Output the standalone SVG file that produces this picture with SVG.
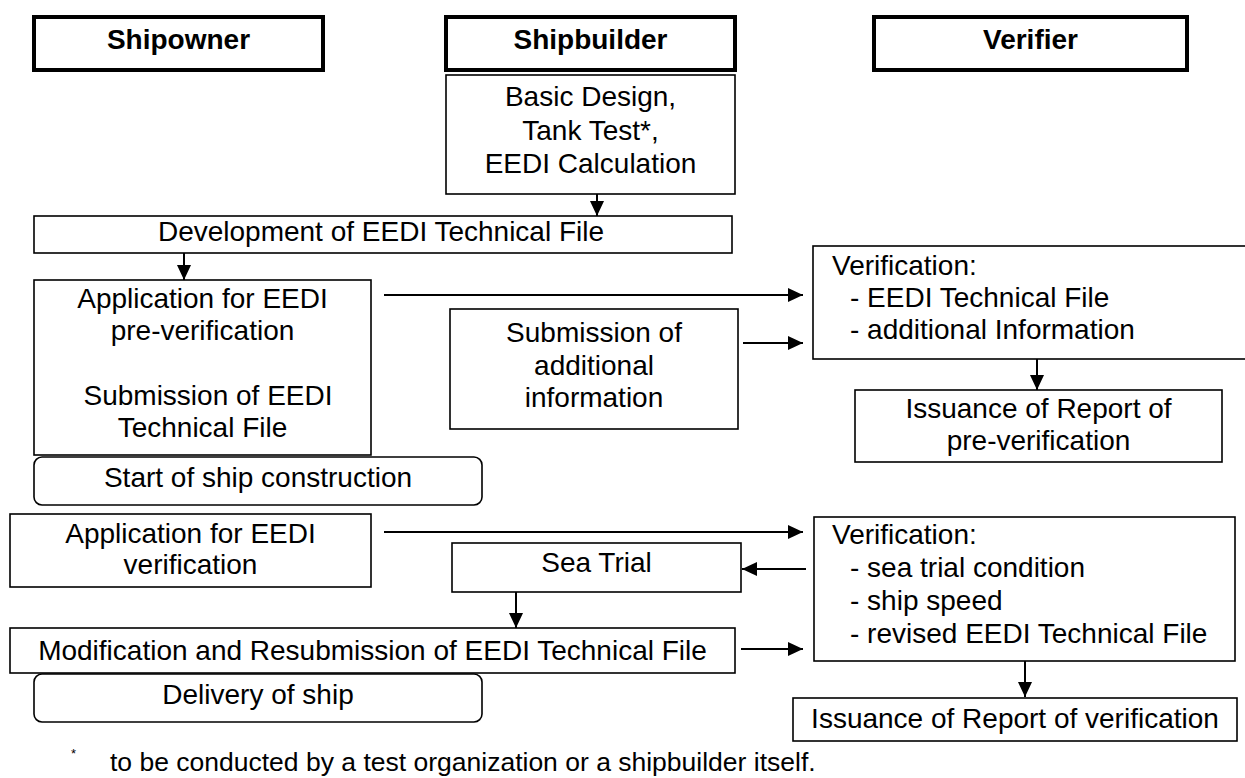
<svg xmlns="http://www.w3.org/2000/svg" width="1245" height="778" viewBox="0 0 1245 778">
<style>
.hdr{fill:#fff;stroke:#000;stroke-width:4}
.box{fill:#fff;stroke:#000;stroke-width:1.6}
.t{font-family:"Liberation Sans",Arial,sans-serif;font-size:28px;fill:#000}
.c{text-anchor:middle}
.b{font-weight:bold}
.con{stroke:#000;stroke-width:2;fill:none}
</style>
<defs>
<marker id="ah" viewBox="0 0 15 14" refX="15" refY="7" markerWidth="15" markerHeight="14" markerUnits="userSpaceOnUse" orient="auto">
<path d="M0,0 L15,7 L0,14 Z" fill="#000"/>
</marker>
</defs>
<rect width="1245" height="778" fill="#fff"/>

<g id="hdr-shipowner"><rect class="hdr" x="34" y="17" width="289" height="53"/><text class="t c b" x="178.5" y="49">Shipowner</text></g>
<g id="hdr-shipbuilder"><rect class="hdr" x="446" y="17" width="289" height="53"/><text class="t c b" x="590.5" y="49">Shipbuilder</text></g>
<g id="hdr-verifier"><rect class="hdr" x="874" y="17" width="313" height="53"/><text class="t c b" x="1030.5" y="49">Verifier</text></g>

<g id="basic-design"><rect class="box" x="446" y="75" width="289" height="119"/>
<text class="t c" x="590.5" y="106">Basic Design,</text>
<text class="t c" x="590.5" y="139.5">Tank Test*,</text>
<text class="t c" x="590.5" y="173">EEDI Calculation</text></g>

<g id="development"><rect class="box" x="34" y="216" width="698" height="37"/>
<text class="t c" x="381" y="241">Development of EEDI Technical File</text></g>

<g id="application-pre"><rect class="box" x="34" y="280" width="337" height="175"/>
<text class="t c" x="202.5" y="308">Application for EEDI</text>
<text class="t c" x="202.5" y="340">pre-verification</text>
<text class="t c" x="208" y="405">Submission of EEDI</text>
<text class="t c" x="202.5" y="437">Technical File</text></g>

<g id="start-construction"><rect class="box" x="34" y="457" width="448" height="48" rx="8"/>
<text class="t c" x="258" y="487">Start of ship construction</text></g>

<g id="submission-additional"><rect class="box" x="450" y="309" width="288" height="120"/>
<text class="t c" x="594" y="342">Submission of</text>
<text class="t c" x="594" y="374.5">additional</text>
<text class="t c" x="594" y="407">information</text></g>

<g id="verification-pre"><rect class="box" x="813" y="246" width="440" height="113"/>
<text class="t" x="832" y="275">Verification:</text>
<text class="t" x="850" y="307">- EEDI Technical File</text>
<text class="t" x="850" y="339">- additional Information</text></g>

<g id="report-pre"><rect class="box" x="855" y="390" width="367" height="72"/>
<text class="t c" x="1038.5" y="418">Issuance of Report of</text>
<text class="t c" x="1038.5" y="450">pre-verification</text></g>

<g id="application-verif"><rect class="box" x="10" y="514" width="361" height="73"/>
<text class="t c" x="190.5" y="543">Application for EEDI</text>
<text class="t c" x="190.5" y="574">verification</text></g>

<g id="sea-trial"><rect class="box" x="452" y="543" width="289" height="49"/>
<text class="t c" x="596.5" y="572">Sea Trial</text></g>

<g id="modification"><rect class="box" x="10" y="628" width="725" height="45"/>
<text class="t c" x="372.5" y="660">Modification and Resubmission of EEDI Technical File</text></g>

<g id="delivery"><rect class="box" x="34" y="674" width="448" height="48" rx="8"/>
<text class="t c" x="258" y="704">Delivery of ship</text></g>

<g id="verification"><rect class="box" x="814" y="517" width="421" height="144"/>
<text class="t" x="832" y="544">Verification:</text>
<text class="t" x="850" y="577">- sea trial condition</text>
<text class="t" x="850" y="610">- ship speed</text>
<text class="t" x="850" y="643">- revised EEDI Technical File</text></g>

<g id="report-verif"><rect class="box" x="793" y="698" width="444" height="43"/>
<text class="t c" x="1015" y="728">Issuance of Report of verification</text></g>

<g id="footnote">
<text class="t" x="71" y="758" style="font-size:13px">*</text>
<text class="t" x="110" y="771" style="font-size:26.5px">to be conducted by a test organization or a shipbuilder itself.</text>
</g>

<g id="connectors">
<line class="con" x1="597" y1="194" x2="597" y2="216" marker-end="url(#ah)"/>
<line class="con" x1="184" y1="253" x2="184" y2="280" marker-end="url(#ah)"/>
<line class="con" x1="384" y1="295" x2="803" y2="295" marker-end="url(#ah)"/>
<line class="con" x1="743" y1="343" x2="803" y2="343" marker-end="url(#ah)"/>
<line class="con" x1="1037" y1="359" x2="1037" y2="390" marker-end="url(#ah)"/>
<line class="con" x1="384" y1="532" x2="803" y2="532" marker-end="url(#ah)"/>
<line class="con" x1="806" y1="569" x2="742" y2="569" marker-end="url(#ah)"/>
<line class="con" x1="516" y1="592" x2="516" y2="628" marker-end="url(#ah)"/>
<line class="con" x1="741" y1="649" x2="803" y2="649" marker-end="url(#ah)"/>
<line class="con" x1="1025" y1="661" x2="1025" y2="697" marker-end="url(#ah)"/>
</g>
</svg>
